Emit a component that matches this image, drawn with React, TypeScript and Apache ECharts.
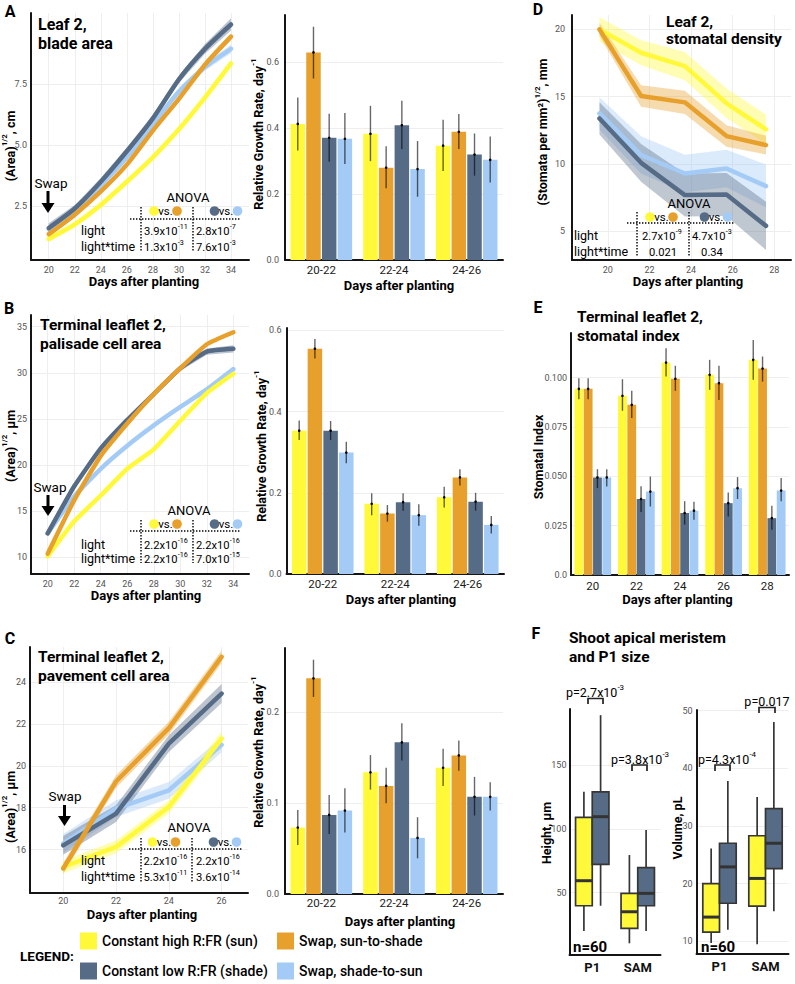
import React, { useEffect, useRef } from "react";
import * as echarts from "echarts";

const FONT = "Roboto, 'Open Sans', sans-serif";
const SUN = "#FFF93A";
const S2S = "#E8A02C";
const SHADE = "#566C86";
const SH2SUN = "#A3CBF5";

const TREATMENTS = ["Constant high R:FR (sun)", "Swap, sun-to-shade", "Constant low R:FR (shade)", "Swap, shade-to-sun"];

// ---------- A: leaf 2 blade area ----------
const daysA = [20, 22, 24, 26, 28, 30, 32, 34];
const aSun = [1.15, 1.75, 2.55, 3.5, 4.5, 5.65, 6.95, 8.35];
const aSunToShade = [1.35, 2.15, 3.1, 4.2, 5.6, 6.9, 8.3, 9.45];
const aShade = [1.6, 2.4, 3.5, 4.75, 6.1, 7.7, 8.95, 9.95];
const aShadeToSun = [1.55, 2.3, 3.35, 4.5, 5.85, 7.2, 8.2, 8.95];
const aSunCI = [0.12, 0.12, 0.12, 0.12, 0.12, 0.13, 0.14, 0.15];
const aSunToShadeCI = [0.1, 0.1, 0.1, 0.1, 0.12, 0.12, 0.12, 0.14];
const aShadeCI = [0.2, 0.15, 0.15, 0.15, 0.15, 0.15, 0.2, 0.25];
const aShadeToSunCI = [0.15, 0.12, 0.12, 0.12, 0.12, 0.12, 0.15, 0.18];

const rgrCats = ["20-22", "22-24", "24-26"];
const aRgrSun = [0.413, 0.383, 0.347];
const aRgrSunLo = [0.332, 0.3, 0.27];
const aRgrSunHi = [0.493, 0.468, 0.426];
const aRgrSunToShade = [0.63, 0.28, 0.389];
const aRgrSunToShadeLo = [0.551, 0.218, 0.337];
const aRgrSunToShadeHi = [0.708, 0.345, 0.443];
const aRgrShade = [0.371, 0.409, 0.32];
const aRgrShadeLo = [0.298, 0.337, 0.256];
const aRgrShadeHi = [0.444, 0.483, 0.384];
const aRgrShadeToSun = [0.368, 0.276, 0.304];
const aRgrShadeToSunLo = [0.291, 0.192, 0.235];
const aRgrShadeToSunHi = [0.446, 0.361, 0.375];

// ---------- B: palisade cell area ----------
const daysB = [20, 22, 24, 26, 28, 30, 32, 34];
const bSun = [10.1, 13.9, 16.7, 19.6, 21.7, 24.8, 27.8, 29.9];
const bSunToShade = [10.4, 16.2, 21.0, 24.5, 27.7, 30.5, 33.1, 34.4];
const bShade = [12.6, 17.7, 21.8, 24.9, 27.7, 30.5, 32.3, 32.6];
const bShadeToSun = [12.6, 16.6, 19.6, 22.1, 24.3, 26.3, 28.2, 30.4];
const bSunCI = [0.2, 0.2, 0.2, 0.2, 0.2, 0.2, 0.2, 0.2];
const bSunToShadeCI = [0.2, 0.2, 0.2, 0.2, 0.2, 0.2, 0.2, 0.2];
const bShadeCI = [0.25, 0.25, 0.25, 0.25, 0.25, 0.3, 0.35, 0.4];
const bShadeToSunCI = [0.2, 0.2, 0.2, 0.2, 0.2, 0.2, 0.2, 0.25];

const bRgrSun = [0.353, 0.173, 0.189];
const bRgrSunLo = [0.33, 0.145, 0.164];
const bRgrSunHi = [0.378, 0.199, 0.215];
const bRgrSunToShade = [0.555, 0.149, 0.238];
const bRgrSunToShadeLo = [0.531, 0.129, 0.218];
const bRgrSunToShadeHi = [0.579, 0.17, 0.258];
const bRgrShade = [0.353, 0.177, 0.178];
const bRgrShadeLo = [0.33, 0.156, 0.156];
const bRgrShadeHi = [0.377, 0.199, 0.2];
const bRgrShadeToSun = [0.299, 0.145, 0.121];
const bRgrShadeToSunLo = [0.273, 0.119, 0.1];
const bRgrShadeToSunHi = [0.326, 0.172, 0.143];

// ---------- C: pavement cell area ----------
const daysC = [20, 22, 24, 26];
const cSun = [15.17, 16.13, 18.04, 21.3];
const cSunToShade = [15.1, 19.25, 21.8, 25.2];
const cShade = [16.2, 17.72, 21.06, 23.45];
const cShadeToSun = [16.3, 17.96, 18.83, 21.0];
const cSunCI = [0.3, 0.3, 0.3, 0.35];
const cSunToShadeCI = [0.25, 0.3, 0.3, 0.3];
const cShadeCI = [0.45, 0.4, 0.4, 0.45];
const cShadeToSunCI = [0.45, 0.4, 0.4, 0.35];

const cRgrSun = [0.0732, 0.134, 0.139];
const cRgrSunLo = [0.054, 0.115, 0.119];
const cRgrSunHi = [0.0926, 0.153, 0.16];
const cRgrSunToShade = [0.2375, 0.119, 0.1526];
const cRgrSunToShadeLo = [0.217, 0.1, 0.1357];
const cRgrSunToShadeHi = [0.258, 0.139, 0.169];
const cRgrShade = [0.0871, 0.167, 0.107];
const cRgrShadeLo = [0.066, 0.147, 0.0864];
const cRgrShadeHi = [0.109, 0.188, 0.129];
const cRgrShadeToSun = [0.0919, 0.0618, 0.107];
const cRgrShadeToSunLo = [0.0676, 0.0393, 0.092];
const cRgrShadeToSunHi = [0.1165, 0.0846, 0.123];

// ---------- D: stomatal density ----------
const daysD = [19.6, 21.6, 23.7, 25.7, 27.6];
const dSun = [20.0, 18.26, 17.27, 14.5, 12.56];
const dSunToShade = [20.0, 15.04, 14.57, 12.06, 11.39];
const dShade = [13.37, 10.07, 7.67, 7.72, 5.38];
const dShadeToSun = [13.75, 10.65, 9.28, 9.65, 8.34];
const dSunCI = [0.9, 0.93, 1.05, 1.1, 1.1];
const dSunToShadeCI = [0.5, 0.8, 0.87, 0.8, 0.7];
const dShadeCI = [1.2, 1.4, 1.6, 1.6, 1.8];
const dShadeToSunCI = [1.2, 1.4, 1.4, 1.4, 1.6];

// ---------- E: stomatal index ----------
const eCats = ["20", "22", "24", "26", "28"];
const eSun = [0.0943, 0.0908, 0.1076, 0.1014, 0.109];
const eSunLo = [0.0891, 0.0832, 0.1005, 0.0938, 0.0989];
const eSunHi = [0.0997, 0.0992, 0.1149, 0.109, 0.119];
const eSunToShade = [0.0943, 0.0862, 0.0994, 0.0972, 0.1046];
const eSunToShadeLo = [0.0891, 0.0795, 0.0933, 0.0887, 0.098];
const eSunToShadeHi = [0.0997, 0.0933, 0.106, 0.106, 0.1107];
const eShade = [0.0494, 0.0385, 0.0314, 0.0364, 0.0288];
const eShadeLo = [0.044, 0.0319, 0.0255, 0.0297, 0.0229];
const eShadeHi = [0.0536, 0.0449, 0.0374, 0.0418, 0.0351];
const eShadeToSun = [0.0494, 0.0423, 0.0326, 0.044, 0.0428];
const eShadeToSunLo = [0.0448, 0.0347, 0.028, 0.0385, 0.0373];
const eShadeToSunHi = [0.0536, 0.0499, 0.0371, 0.0496, 0.0491];

// ---------- F: SAM & P1 (min, Q1, median, Q3, max) ----------
const fCats = ["P1", "SAM"];
const fHeightSun = [[20, 39.8, 59.4, 109, 129], [10.4, 22.1, 35.1, 49.5, 79.5]];
const fHeightShade = [[39.8, 72.2, 109.5, 129, 189], [20, 39.8, 49.5, 69.6, 99]];
const fVolumeSun = [[9.7, 11.6, 14.2, 20.0, 26.1], [9.5, 16.1, 20.9, 28.3, 35.0]];
const fVolumeShade = [[12.0, 16.6, 22.9, 27.0, 37.8], [15.2, 22.6, 27.0, 33.0, 48.0]];

// ---------- tick labels ----------
const ticksDaysAB = [20, 22, 24, 26, 28, 30, 32, 34];
const ticksDaysC = [20, 22, 24, 26];
const ticksDaysD = [20, 22, 24, 26, 28];
const ticksA = [2.5, 5, 7.5];
const ticksB = [10, 15, 20, 25, 30, 35];
const ticksC = [16, 18, 20, 22, 24];
const ticksD = [5, 10, 15, 20];
const ticksRgrAB = [0, 0.2, 0.4, 0.6];
const ticksRgrC = [0, 0.1, 0.2];
const ticksE = [0, 0.025, 0.05, 0.075, 0.1];
const ticksHeight = [50, 100, 150];
const ticksVolume = [10, 20, 30, 40, 50];

// ---------- helpers ----------
function rgba(hex: string, a: number) {
  const n = parseInt(hex.slice(1), 16);
  return `rgba(${(n >> 16) & 255},${(n >> 8) & 255},${n & 255},${a})`;
}

const AXLINE = { show: true, onZero: false, lineStyle: { color: "#151515", width: 2 } };
const SPLIT = { show: true, lineStyle: { color: "#EEEEEE", width: 1 } };

function valueAxis(gi: number, min: number, max: number, ticks: number[], fmt: (v: number) => string, margin: number, extra: any = {}) {
  return {
    type: "value", gridIndex: gi, min, max,
    axisLine: AXLINE,
    axisTick: { show: false, customValues: ticks },
    axisLabel: { customValues: ticks, formatter: fmt, margin, fontFamily: FONT, fontSize: 9, color: "#555", ...extra },
    splitLine: SPLIT,
  };
}
function catAxis(gi: number, cats: string[], margin: number, extra: any = {}) {
  return {
    type: "category", gridIndex: gi, data: cats,
    axisLine: AXLINE, axisTick: { show: false },
    axisLabel: { interval: 0, margin, fontFamily: FONT, fontSize: 11.5, color: "#1a1a1a", ...extra },
    splitLine: { show: false },
  };
}

function lineSeries(gi: number, name: string, days: number[], vals: number[], color: string, smooth: number) {
  return {
    type: "line", name, xAxisIndex: gi, yAxisIndex: gi, z: 3, smooth,
    data: days.map((d, j) => [d, vals[j]]),
    symbol: "none", showSymbol: false,
    lineStyle: { color, width: 4.5, cap: "round", join: "round" },
    itemStyle: { color },
  };
}
function bandSeries(gi: number, days: number[], vals: number[], hw: number[], color: string, alpha: number) {
  return {
    type: "custom", xAxisIndex: gi, yAxisIndex: gi, z: 2, silent: true,
    encode: { x: 0, y: 1 },
    data: [[days[0], vals[0]]],
    renderItem: (_p: any, api: any) => {
      const up = days.map((d, j) => api.coord([d, vals[j] + hw[j]]));
      const dn = days.map((d, j) => api.coord([d, vals[j] - hw[j]])).reverse();
      return { type: "polygon", shape: { points: up.concat(dn) }, style: { fill: rgba(color, alpha) } };
    },
  };
}

function barSeries(gi: number, name: string, vals: number[], color: string, barW: number, gapPct: string) {
  return {
    type: "bar", name, xAxisIndex: gi, yAxisIndex: gi, z: 2, data: vals,
    barWidth: barW, barGap: gapPct, itemStyle: { color }, emphasis: { disabled: true },
  };
}
function errorSeries(gi: number, cats: string[], mean: number[], lo: number[], hi: number[], k: number, step: number) {
  return {
    type: "custom", xAxisIndex: gi, yAxisIndex: gi, z: 4, silent: true,
    encode: { x: 0, y: [1, 2, 3] },
    data: cats.map((_c, j) => [j, mean[j], lo[j], hi[j]]),
    renderItem: (_p: any, api: any) => {
      const j = api.value(0);
      const pm = api.coord([j, api.value(1)]);
      const pl = api.coord([j, api.value(2)]);
      const ph = api.coord([j, api.value(3)]);
      const x = pm[0] + (k - 1.5) * step;
      return {
        type: "group",
        children: [
          { type: "line", shape: { x1: x, y1: ph[1], x2: x, y2: pl[1] }, style: { stroke: "rgba(0,0,0,0.6)", lineWidth: 1.4 } },
          { type: "circle", shape: { cx: x, cy: pm[1], r: 1.3 }, style: { fill: "#000" } },
        ],
      };
    },
  };
}
function boxSeries(gi: number, name: string, stats: number[][], k: number, color: string, boxW: number) {
  return {
    type: "custom", name, xAxisIndex: gi, yAxisIndex: gi, z: 3, silent: true,
    encode: { x: 0, y: [1, 2, 3, 4, 5] },
    data: fCats.map((_c, j) => [j, ...stats[j]]),
    renderItem: (_p: any, api: any) => {
      const j = api.value(0);
      const c = (v: number) => api.coord([j, v]);
      const x = c(api.value(3))[0] + (k - 0.5) * boxW;
      const yMin = c(api.value(1))[1];
      const yQ1 = c(api.value(2))[1];
      const yMed = c(api.value(3))[1];
      const yQ3 = c(api.value(4))[1];
      const yMax = c(api.value(5))[1];
      const st = { stroke: "#363636", lineWidth: 1.7 };
      return {
        type: "group",
        children: [
          { type: "line", shape: { x1: x, y1: yMax, x2: x, y2: yQ3 }, style: st },
          { type: "line", shape: { x1: x, y1: yQ1, x2: x, y2: yMin }, style: st },
          { type: "rect", shape: { x: x - boxW / 2, y: yQ3, width: boxW, height: yQ1 - yQ3 }, style: { fill: color, stroke: "#363636", lineWidth: 1.7 } },
          { type: "line", shape: { x1: x - boxW / 2, y1: yMed, x2: x + boxW / 2, y2: yMed }, style: { stroke: "#333", lineWidth: 3 } },
        ],
      };
    },
  };
}

// ---------- graphic helpers ----------
function txt(x: number, y: number, text: string, o: any = {}) {
  return {
    type: "text", x, y, z: 100, silent: true, rotation: o.rot || 0,
    style: {
      text, fill: o.color || "#000", fontSize: o.size || 12, fontWeight: o.weight || "normal",
      fontFamily: FONT, align: o.align || "left", verticalAlign: o.va || "middle",
      lineHeight: o.lh, rich: o.rich,
    },
  };
}
function richSet(size: number, weight: string) {
  return {
    b: { fontSize: size, lineHeight: Math.round(size * 1.25), fontWeight: weight, fontFamily: FONT, fill: "#000", verticalAlign: "bottom" },
    s: { fontSize: Math.round(size * 0.64 * 10) / 10, lineHeight: Math.round(size * 0.7), fontWeight: weight, fontFamily: FONT, fill: "#000", verticalAlign: "top" },
  };
}
function sup(base: string, exp: string, after = "") {
  return `{b|${base}}{s|${exp}}` + (after ? `{b|${after}}` : "");
}
function plain(s: string) {
  return `{b|${s}}`;
}
const dotted = (x1: number, y1: number, x2: number, y2: number) => ({
  type: "line", z: 100, silent: true, shape: { x1, y1, x2, y2 },
  style: { stroke: "#000", lineWidth: 1.4, lineDash: [1.4, 1.6] },
});
const dot = (cx: number, cy: number, color: string) => ({ type: "circle", z: 100, silent: true, shape: { cx, cy, r: 4.8 }, style: { fill: color } });

const ANOVA_SIZE = 12.5;
function anovaTable(c: any) {
  const r = richSet(11.2, "normal");
  const out: any[] = [];
  out.push(txt(c.ax, c.ay, "ANOVA", { size: ANOVA_SIZE + 0.5, align: "center" }));
  out.push(dot(c.g1 - 11.5, c.dy, SUN), dot(c.g1 + 11.5, c.dy, S2S), dot(c.g2 - 11.5, c.dy, SHADE), dot(c.g2 + 11.5, c.dy, SH2SUN));
  out.push(txt(c.g1, c.dy, "vs.", { size: 11.5, align: "center" }), txt(c.g2, c.dy, "vs.", { size: 11.5, align: "center" }));
  out.push(dotted(c.hx1, c.hy, c.hx2, c.hy), dotted(c.vx1, c.vy1, c.vx1, c.vy2), dotted(c.vx2, c.vy1, c.vx2, c.vy2));
  out.push(txt(c.lx, c.r1, "light", { size: ANOVA_SIZE }), txt(c.lx, c.r2, "light*time", { size: ANOVA_SIZE }));
  c.cells.forEach((cell: any) => out.push(txt(cell[1], cell[2], cell[0], { align: cell[3] || "left", rich: r })));
  return out;
}
function arrow(x: number, y1: number, y2: number) {
  return [
    { type: "line", z: 100, silent: true, shape: { x1: x, y1, x2: x, y2: y2 - 8 }, style: { stroke: "#000", lineWidth: 3 } },
    { type: "polygon", z: 100, silent: true, shape: { points: [[x - 6.5, y2 - 10], [x + 6.5, y2 - 10], [x, y2]] }, style: { fill: "#000" } },
  ];
}
function bracket(x1: number, x2: number, yTop: number, yBot: number) {
  return { type: "polyline", z: 100, silent: true, shape: { points: [[x1, yBot], [x1, yTop], [x2, yTop], [x2, yBot]] }, style: { stroke: "#222", lineWidth: 1.7, fill: null } };
}

function buildOption() {
  const grids = [
    { left: 31, top: 13, width: 218, height: 247 },     // 0 A line
    { left: 285, top: 15, width: 218, height: 245 },    // 1 A bar
    { left: 572, top: 15, width: 219, height: 245 },    // 2 D line
    { left: 31, top: 315, width: 218, height: 259 },    // 3 B line
    { left: 286.5, top: 328, width: 217.5, height: 246 }, // 4 B bar
    { left: 571, top: 333, width: 218, height: 242 },   // 5 E bar
    { left: 30, top: 647, width: 218, height: 246 },    // 6 C line
    { left: 285, top: 648, width: 218, height: 246 },   // 7 C bar
    { left: 569.5, top: 709, width: 91, height: 246 },  // 8 F height
    { left: 696.5, top: 710, width: 92, height: 244 },  // 9 F volume
  ];
  const i0 = (v: number) => String(v);
  const f1 = (v: number) => v.toFixed(1);
  const fE = (v: number) => (v === 0 ? "0.0" : v.toFixed(3));

  const xAxis = [
    valueAxis(0, 18.64, 35.38, ticksDaysAB, i0, 5),
    catAxis(1, rgrCats, 4),
    valueAxis(2, 18.28, 28.8, ticksDaysD, i0, 5),
    valueAxis(3, 18.74, 35.18, ticksDaysAB, i0, 5),
    catAxis(4, rgrCats, 4),
    catAxis(5, eCats, 5),
    valueAxis(6, 18.74, 27.0, ticksDaysC, i0, 3),
    catAxis(7, rgrCats, 3),
    catAxis(8, fCats, 6, { fontWeight: "bold", fontSize: 13, color: "#111" }),
    catAxis(9, fCats, 6, { fontWeight: "bold", fontSize: 13, color: "#111" }),
  ];
  const yAxis = [
    valueAxis(0, 0.29, 10.42, ticksA, f1, 4),
    valueAxis(1, 0, 0.7436, ticksRgrAB, f1, 6),
    valueAxis(2, 2.84, 21.07, ticksD, i0, 7),
    valueAxis(3, 8.19, 36.27, ticksB, i0, 4),
    valueAxis(4, 0, 0.606, ticksRgrAB, f1, 5),
    valueAxis(5, 0, 0.1226, ticksE, fE, 4),
    valueAxis(6, 13.93, 25.67, ticksC, i0, 4),
    valueAxis(7, 0, 0.2709, ticksRgrC, f1, 6),
    valueAxis(8, 1.25, 193.8, ticksHeight, i0, 3),
    valueAxis(9, 7.8, 50.1, ticksVolume, i0, 4),
  ];

  const series: any[] = [];
  const colors = [SUN, S2S, SHADE, SH2SUN];
  const linePanels = [
    { gi: 0, days: daysA, v: [aSun, aSunToShade, aShade, aShadeToSun], ci: [aSunCI, aSunToShadeCI, aShadeCI, aShadeToSunCI], smooth: 0.25, alpha: 0.4 },
    { gi: 3, days: daysB, v: [bSun, bSunToShade, bShade, bShadeToSun], ci: [bSunCI, bSunToShadeCI, bShadeCI, bShadeToSunCI], smooth: 0.15, alpha: 0.4 },
    { gi: 6, days: daysC, v: [cSun, cSunToShade, cShade, cShadeToSun], ci: [cSunCI, cSunToShadeCI, cShadeCI, cShadeToSunCI], smooth: 0, alpha: 0.4 },
    { gi: 2, days: daysD, v: [dSun, dSunToShade, dShade, dShadeToSun], ci: [dSunCI, dSunToShadeCI, dShadeCI, dShadeToSunCI], smooth: 0, alpha: 0.38 },
  ];
  const order = [3, 2, 0, 1];
  linePanels.forEach((p) => {
    order.forEach((k) => series.push(bandSeries(p.gi, p.days, p.v[k], p.ci[k], colors[k], p.alpha)));
    order.forEach((k) => series.push(lineSeries(p.gi, TREATMENTS[k], p.days, p.v[k], colors[k], p.smooth)));
  });

  const barPanels = [
    { gi: 1, cats: rgrCats, w: 14.5, gap: 1.2, m: [aRgrSun, aRgrSunToShade, aRgrShade, aRgrShadeToSun], lo: [aRgrSunLo, aRgrSunToShadeLo, aRgrShadeLo, aRgrShadeToSunLo], hi: [aRgrSunHi, aRgrSunToShadeHi, aRgrShadeHi, aRgrShadeToSunHi] },
    { gi: 4, cats: rgrCats, w: 14.5, gap: 1.2, m: [bRgrSun, bRgrSunToShade, bRgrShade, bRgrShadeToSun], lo: [bRgrSunLo, bRgrSunToShadeLo, bRgrShadeLo, bRgrShadeToSunLo], hi: [bRgrSunHi, bRgrSunToShadeHi, bRgrShadeHi, bRgrShadeToSunHi] },
    { gi: 7, cats: rgrCats, w: 14.5, gap: 1.2, m: [cRgrSun, cRgrSunToShade, cRgrShade, cRgrShadeToSun], lo: [cRgrSunLo, cRgrSunToShadeLo, cRgrShadeLo, cRgrShadeToSunLo], hi: [cRgrSunHi, cRgrSunToShadeHi, cRgrShadeHi, cRgrShadeToSunHi] },
    { gi: 5, cats: eCats, w: 8.8, gap: 0.5, m: [eSun, eSunToShade, eShade, eShadeToSun], lo: [eSunLo, eSunToShadeLo, eShadeLo, eShadeToSunLo], hi: [eSunHi, eSunToShadeHi, eShadeHi, eShadeToSunHi] },
  ];
  barPanels.forEach((p) => {
    const gapPct = ((p.gap / p.w) * 100).toFixed(2) + "%";
    [0, 1, 2, 3].forEach((k) => series.push(barSeries(p.gi, TREATMENTS[k], p.m[k], colors[k], p.w, gapPct)));
    [0, 1, 2, 3].forEach((k) => series.push(errorSeries(p.gi, p.cats, p.m[k], p.lo[k], p.hi[k], k, p.w + p.gap)));
  });

  series.push(boxSeries(8, TREATMENTS[0], fHeightSun, 0, SUN, 16.7));
  series.push(boxSeries(8, TREATMENTS[2], fHeightShade, 1, SHADE, 16.7));
  series.push(boxSeries(9, TREATMENTS[0], fVolumeSun, 0, SUN, 16.7));
  series.push(boxSeries(9, TREATMENTS[2], fVolumeShade, 1, SHADE, 16.7));

  // ---------- graphic ----------
  const g: any[] = [];
  const letter = (x: number, y: number, s: string) => txt(x, y, s, { size: 16, weight: "bold", align: "center" });
  g.push(letter(10, 11, "A"), letter(9, 308, "B"), letter(10, 638, "C"), letter(538, 9, "D"), letter(538, 307, "E"), letter(536, 633, "F"));

  const title = (x: number, yTop: number, s: string, size = 15.5, lh = 19) => txt(x, yTop, s, { size, weight: "bold", va: "top", lh });
  g.push(title(38, 15, "Leaf 2,\nblade area", 16));
  g.push(title(40, 315, "Terminal leaflet 2,\npalisade cell area"));
  g.push(title(38, 647, "Terminal leaflet 2,\npavement cell area"));
  g.push(title(666, 13, "Leaf 2,\nstomatal density", 15.5, 17.5));
  g.push(title(577, 307, "Terminal leaflet 2,\nstomatal index"));
  g.push(title(569, 628, "Shoot apical meristem\nand P1 size"));

  const rb = richSet(12.5, "bold");
  const yName = (x: number, y: number, s: string) => txt(x, y, s, { rot: Math.PI / 2, align: "center", rich: rb });
  g.push(yName(8.5, 146, sup("(Area)", "1/2", ", cm")));
  g.push(yName(257, 134, sup("Relative Growth Rate, day", "-1")));
  g.push(yName(8.5, 446, sup("(Area)", "1/2", ", μm")));
  g.push(yName(260, 446, sup("Relative Growth Rate, day", "-1")));
  g.push(yName(8.5, 807, sup("(Area)", "1/2", ", μm")));
  g.push(yName(257, 752, sup("Relative Growth Rate, day", "-1")));
  g.push(yName(541, 132, sup("(Stomata per mm²)", "1/2", ", mm")));
  g.push(yName(537, 457, plain("Stomatal Index")));
  g.push(yName(545, 833, plain("Height, μm")));
  g.push(yName(676, 828, plain("Volume, pL")));

  const xName = (x: number, y: number) => txt(x, y, "Days after planting", { size: 13, weight: "bold", align: "center" });
  g.push(xName(144, 281), xName(399, 285), xName(146, 595), xName(401, 599), xName(142, 914), xName(400, 921), xName(688, 281), xName(677.5, 599));

  // swap arrows
  g.push(txt(51, 183, "Swap", { size: 13.5, align: "center" }), ...arrow(48, 191, 213));
  g.push(txt(50, 487, "Swap", { size: 13.5, align: "center" }), ...arrow(48, 495, 516));
  g.push(txt(65, 796, "Swap", { size: 13.5, align: "center" }), ...arrow(64.5, 805, 826));

  // ANOVA tables
  g.push(...anovaTable({
    ax: 188, ay: 197, dy: 211, g1: 165.5, g2: 226, hy: 219, hx1: 130, hx2: 241, vx1: 141, vx2: 193, vy1: 207, vy2: 251,
    lx: 81, r1: 230, r2: 246,
    cells: [[sup("3.9x10", "-11"), 144, 230], [sup("2.8x10", "-7"), 196, 230], [sup("1.3x10", "-3"), 144, 246], [sup("7.6x10", "-3"), 196, 246]],
  }));
  g.push(...anovaTable({
    ax: 189, ay: 510, dy: 524, g1: 165.5, g2: 226, hy: 531, hx1: 130, hx2: 241, vx1: 141, vx2: 193, vy1: 520, vy2: 563,
    lx: 81, r1: 544, r2: 558,
    cells: [[sup("2.2x10", "-16"), 144, 544], [sup("2.2x10", "-16"), 196, 544], [sup("2.2x10", "-16"), 144, 558], [sup("7.0x10", "-15"), 196, 558]],
  }));
  g.push(...anovaTable({
    ax: 189, ay: 827, dy: 842, g1: 164, g2: 225, hy: 849, hx1: 129, hx2: 243, vx1: 141, vx2: 192, vy1: 838, vy2: 882,
    lx: 81, r1: 860, r2: 876,
    cells: [[sup("2.2x10", "-16"), 143.5, 860], [sup("2.2x10", "-16"), 196, 860], [sup("5.3x10", "-11"), 143.5, 876], [sup("3.6x10", "-14"), 196, 876]],
  }));
  g.push(...anovaTable({
    ax: 689, ay: 203, dy: 217, g1: 661.5, g2: 716, hy: 223, hx1: 627, hx2: 735, vx1: 637, vx2: 689, vy1: 212, vy2: 257,
    lx: 574, r1: 235, r2: 251,
    cells: [[sup("2.7x10", "-9"), 642, 235], [sup("4.7x10", "-3"), 692, 235], [plain("0.021"), 663, 251, "center"], [plain("0.34"), 712, 251, "center"]],
  }));

  // F annotations
  const rp = richSet(12.5, "normal");
  g.push(txt(595, 691, sup("p=2.7x10", "-3"), { align: "center", rich: rp }), bracket(588, 603, 698.5, 704));
  g.push(txt(640, 758, sup("p=3.8x10", "-3"), { align: "center", rich: rp }), bracket(632, 647, 765, 771));
  g.push(txt(727, 758, sup("p=4.3x10", "-4"), { align: "center", rich: rp }), bracket(715, 730, 765, 771));
  g.push(txt(767, 700, plain("p=0.017"), { align: "center", rich: rp }), bracket(759, 775, 707.5, 713));
  g.push(txt(573, 947, "n=60", { size: 15, weight: "bold" }), txt(701, 947, "n=60", { size: 15, weight: "bold" }));

  // legend
  g.push(txt(20, 956, "LEGEND:", { size: 13.5, weight: "bold" }));
  const leg = [
    [SUN, 80, 941, TREATMENTS[0]],
    [S2S, 277, 941, TREATMENTS[1]],
    [SHADE, 80, 971, TREATMENTS[2]],
    [SH2SUN, 277, 971, TREATMENTS[3]],
  ] as [string, number, number, string][];
  leg.forEach(([c, x, y, s]) => {
    g.push({ type: "rect", z: 100, silent: true, shape: { x, y: y - 8.5, width: 17, height: 17 }, style: { fill: c } });
    g.push(txt(x + 22, y, s, { size: 14, weight: 500 }));
  });

  return {
    animation: false,
    backgroundColor: "#ffffff",
    textStyle: { fontFamily: FONT },
    grid: grids.map((gr) => ({ ...gr, containLabel: false })),
    xAxis,
    yAxis,
    series,
    graphic: { elements: g },
  };
}

export default function App() {
  const ref = useRef<HTMLDivElement>(null);
  useEffect(() => {
    const chart = echarts.init(ref.current as HTMLDivElement, undefined, { renderer: "svg", width: 795, height: 984 });
    chart.setOption(buildOption() as any);
    return () => chart.dispose();
  }, []);
  return <div ref={ref} style={{ position: "absolute", left: 0, top: 0, width: 795, height: 984, background: "#fff" }} />;
}
